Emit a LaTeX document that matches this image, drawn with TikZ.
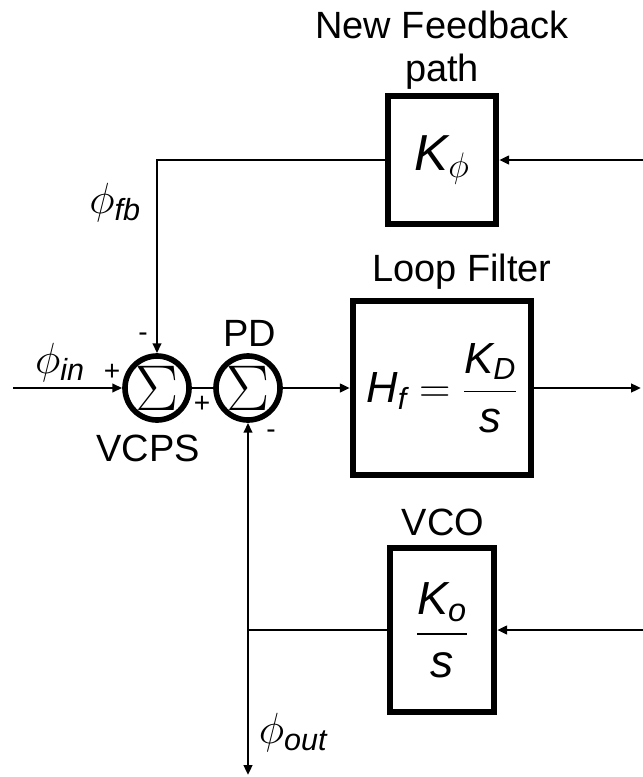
\RequirePackage{fix-cm}
\documentclass[tikz,border=0pt]{standalone}
\usepackage{amsmath}
\usepackage{fontspec}
\setmainfont{Liberation Sans}
\usetikzlibrary{positioning,arrows.meta}

\begin{document}
\begin{tikzpicture}[x=0.025cm, y=-0.025cm, >={Triangle[length=7pt,width=6pt]},
  wire/.style={line width=1.8pt},
  blk/.style={draw, line width=4.5pt, inner sep=0pt},
  sumnode/.style={circle, draw, line width=4pt, minimum size=1.6cm, inner sep=0pt, font=\fontsize{46}{48}\selectfont},
  lbl/.style={font=\fontsize{27}{31}\selectfont, inner sep=0pt},
  philbl/.style={font=\fontsize{31}{33}\selectfont, inner sep=0pt},
  sgn/.style={font=\fontsize{20}{22}\selectfont, inner sep=0pt}]
\useasboundingbox (0,0) rectangle (643,777);
% summing junctions
\node[sumnode] (vcps) at (157,388) {$\Sigma$};
\node[sumnode] (pd) at (248,388) {$\Sigma$};
% blocks
\node[blk, minimum width=2.7cm, minimum height=3.2cm, font=\fontsize{36}{38}\selectfont] (kphi) at (442,160) {$\textit{K}_{\phi}$};
\node[blk, minimum width=4.45cm, minimum height=4.35cm, font=\fontsize{31}{34}\selectfont] (filt) at (442,388)
    {$\textit{H}_{\textit{f}} = \dfrac{\textit{K}_{\textit{D}}}{\textit{s}}$};
\node[blk, minimum width=2.6cm, minimum height=4.1cm, font=\fontsize{33}{35}\selectfont] (vco) at (442,630)
    {$\dfrac{\textit{K}_{\textit{o}}}{\textit{s}}$};
% free ends
\coordinate (in) at (13,388);
\coordinate (kphiR) at (643,160);
\coordinate (filtR) at (641,388);
\coordinate (vcoR) at (643,630);
\coordinate (tap) at (248,630);
\coordinate (out) at (248,775);
% connectors
\draw[wire,->] (kphi.west) -| (vcps.north);
\draw[wire,->] (in) -- (vcps.west);
\draw[wire] (vcps.east) -- (pd.west);
\draw[wire,->] (pd.east) -- (filt.west);
\draw[wire,->] (filt.east) -- (filtR);
\draw[wire,->] (kphiR) -- (kphi.east);
\draw[wire,->] (vcoR) -- (vco.east);
\draw[wire] (vco.west) -- (tap);
\draw[wire,->] (tap) -- (pd.south);
\draw[wire,->] (tap) -- (out);
% labels
\node[lbl, align=center] (fbtitle) at (442,50) {New Feedback\\path};
\node[lbl] (filttitle) at (462,272) {Loop Filter};
\node[lbl] (vcotitle) at (443,522) {VCO};
\node[lbl] (pdtitle) at (250,333) {PD};
\node[lbl] (vcpstitle) at (148,448) {VCPS};
\node[philbl] (phiin) at (60,363) {$\phi_{\textit{in}}$};
\node[philbl] (phifb) at (115,203) {$\phi_{\textit{fb}}$};
\node[philbl] (phiout) at (293,733) {$\phi_{\textit{out}}$};
\node[sgn] (pin) at (112,372) {+};
\node[sgn] (mfb) at (143,337) {-};
\node[sgn] (pvc) at (202,404) {+};
\node[sgn] (mout) at (271,434) {-};
\end{tikzpicture}
\end{document}
